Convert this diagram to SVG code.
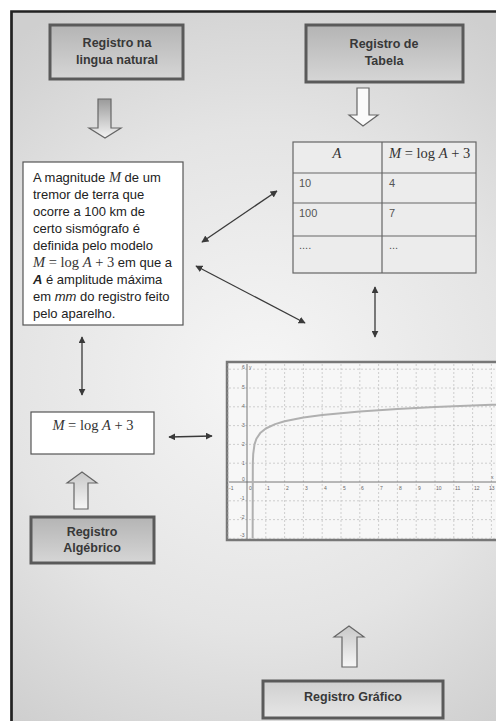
<svg xmlns="http://www.w3.org/2000/svg" width="496" height="721" viewBox="0 0 496 721">
<defs>
<radialGradient id="bg" cx="260" cy="380" r="420" gradientUnits="userSpaceOnUse">
<stop offset="0" stop-color="#f6f6f6"/>
<stop offset="0.6" stop-color="#e4e4e4"/>
<stop offset="1" stop-color="#cfcfcf"/>
</radialGradient>
<linearGradient id="lbl" x1="0" y1="0" x2="0" y2="1">
<stop offset="0" stop-color="#b4b4b4"/>
<stop offset="1" stop-color="#d6d6d6"/>
</linearGradient>
<linearGradient id="lbl2" x1="0" y1="0" x2="0" y2="1">
<stop offset="0" stop-color="#d0d0d0"/>
<stop offset="1" stop-color="#e6e6e6"/>
</linearGradient>
<linearGradient id="arrDark" x1="0" y1="0" x2="0" y2="1">
<stop offset="0" stop-color="#9a9a9a"/>
<stop offset="1" stop-color="#f4f4f4"/>
</linearGradient>
<linearGradient id="arrLight" x1="0" y1="0" x2="0" y2="1">
<stop offset="0" stop-color="#c8c8c8"/>
<stop offset="1" stop-color="#f6f6f6"/>
</linearGradient>
<marker id="ah" viewBox="0 0 10 10" refX="9" refY="5" markerWidth="7" markerHeight="7" markerUnits="userSpaceOnUse" orient="auto-start-reverse">
<path d="M0,0 L10,5 L0,10 z" fill="#3a3a3a"/>
</marker>
<style>
.lblbox{stroke:#5a5a5a;stroke-width:3}
.lbltxt{font-family:"Liberation Sans",Arial,sans-serif;font-weight:bold;font-size:12.5px;fill:#383838;text-anchor:middle}
.body{font-family:"Liberation Sans",Arial,sans-serif;font-size:13px;fill:#222}
.math{font-family:"Liberation Serif","Times New Roman",serif;font-size:14.5px;fill:#333}
.it{font-style:italic}
.cell{font-family:"Liberation Sans",Arial,sans-serif;font-size:11px;fill:#555}
.hollow{stroke:#666;stroke-width:1.2}
.conn{stroke:#3a3a3a;stroke-width:1.3;fill:none;marker-start:url(#ah);marker-end:url(#ah)}
.grid{stroke:#bdbdbd;stroke-width:0.7;stroke-dasharray:2 2}
.tick{font-family:"Liberation Sans",Arial,sans-serif;font-size:5px;fill:#666}
</style>
</defs>
<rect x="0" y="0" width="496" height="721" fill="#ffffff"/>
<rect x="11" y="11" width="490" height="715" fill="url(#bg)"/>
<path d="M11.5,721 L11.5,11.5 L496,11.5" fill="none" stroke="#222" stroke-width="2.7"/>

<g id="node-lingua">
<rect class="lblbox" x="50" y="25" width="133" height="54" fill="url(#lbl)"/>
<text class="lbltxt" x="117" y="47">Registro na</text>
<text class="lbltxt" x="117" y="64">lingua natural</text>
</g>
<g id="node-tabela-label">
<rect class="lblbox" x="306" y="25" width="157" height="57" fill="url(#lbl)"/>
<text class="lbltxt" x="384" y="48">Registro de</text>
<text class="lbltxt" x="384" y="65">Tabela</text>
</g>
<g id="arrow-lingua">
<polygon class="hollow" points="98,99 111,99 111,128 121,128 105,138 89,128 98,128" fill="url(#arrDark)"/>
</g>
<g id="arrow-tabela">
<polygon class="hollow" points="357,88 369,88 369,115 378,115 363,126 349,115 357,115" fill="#fafafa"/>
</g>

<g id="node-texto">
<rect x="23" y="162" width="160" height="163" fill="#ffffff" stroke="#555" stroke-width="1.2"/>
<text class="body" x="33" y="182">A magnitude <tspan class="math it">M</tspan> de um</text>
<text class="body" x="33" y="199">tremor de terra que</text>
<text class="body" x="33" y="216">ocorre a 100 km de</text>
<text class="body" x="33" y="233">certo sismógrafo é</text>
<text class="body" x="33" y="250">definida pelo modelo</text>
<text class="body" x="33" y="267"><tspan class="math"><tspan class="it">M</tspan> = log <tspan class="it">A</tspan> + 3</tspan> em que a</text>
<text class="body" x="33" y="284"><tspan font-weight="bold" font-style="italic">A</tspan> é amplitude máxima</text>
<text class="body" x="33" y="301">em <tspan font-style="italic">mm</tspan> do registro feito</text>
<text class="body" x="33" y="318">pelo aparelho.</text>
</g>

<g id="node-tabela">
<rect x="293" y="142" width="183" height="131" fill="#ececec" stroke="#666" stroke-width="1.2"/>
<line x1="382" y1="142" x2="382" y2="273" stroke="#666" stroke-width="1.2"/>
<line x1="293" y1="173" x2="476" y2="173" stroke="#666" stroke-width="1.2"/>
<line x1="293" y1="203" x2="476" y2="203" stroke="#666" stroke-width="1.2"/>
<line x1="293" y1="236" x2="476" y2="236" stroke="#666" stroke-width="1.2"/>
<text class="math it" x="337" y="158" text-anchor="middle">A</text>
<text class="math" x="389" y="158"><tspan class="it">M</tspan> = log <tspan class="it">A</tspan> + 3</text>
<text class="cell" x="299" y="187">10</text>
<text class="cell" x="389" y="187">4</text>
<text class="cell" x="299" y="217">100</text>
<text class="cell" x="389" y="217">7</text>
<text class="cell" x="299" y="249">....</text>
<text class="cell" x="389" y="249">...</text>
</g>

<g id="node-formula">
<rect x="31" y="412" width="123" height="42" fill="#ffffff" stroke="#555" stroke-width="1.2"/>
<text class="math" x="93" y="430" text-anchor="middle"><tspan class="it">M</tspan> = log <tspan class="it">A</tspan> + 3</text>
</g>
<g id="arrow-algebrico">
<polygon class="hollow" points="74,509 88,509 88,483 97,483 82,472 67,483 74,483" fill="url(#arrLight)"/>
</g>
<g id="node-algebrico">
<rect class="lblbox" x="31" y="517" width="123" height="46" fill="url(#lbl)"/>
<text class="lbltxt" x="92" y="536">Registro</text>
<text class="lbltxt" x="92" y="552">Algébrico</text>
</g>

<g id="node-grafico">
<rect x="227" y="362" width="275" height="178" fill="#f7f7f7" stroke="#777" stroke-width="2.5"/>
<g class="gridlines">
<line class="grid" x1="228.2" y1="364" x2="228.2" y2="539"/>
<line class="grid" x1="265.8" y1="364" x2="265.8" y2="539"/>
<line class="grid" x1="284.6" y1="364" x2="284.6" y2="539"/>
<line class="grid" x1="303.4" y1="364" x2="303.4" y2="539"/>
<line class="grid" x1="322.2" y1="364" x2="322.2" y2="539"/>
<line class="grid" x1="341" y1="364" x2="341" y2="539"/>
<line class="grid" x1="359.8" y1="364" x2="359.8" y2="539"/>
<line class="grid" x1="378.6" y1="364" x2="378.6" y2="539"/>
<line class="grid" x1="397.4" y1="364" x2="397.4" y2="539"/>
<line class="grid" x1="416.2" y1="364" x2="416.2" y2="539"/>
<line class="grid" x1="435" y1="364" x2="435" y2="539"/>
<line class="grid" x1="453.8" y1="364" x2="453.8" y2="539"/>
<line class="grid" x1="472.6" y1="364" x2="472.6" y2="539"/>
<line class="grid" x1="491.4" y1="364" x2="491.4" y2="539"/>
<line class="grid" x1="229" y1="369.2" x2="496" y2="369.2"/>
<line class="grid" x1="229" y1="388" x2="496" y2="388"/>
<line class="grid" x1="229" y1="406.8" x2="496" y2="406.8"/>
<line class="grid" x1="229" y1="425.6" x2="496" y2="425.6"/>
<line class="grid" x1="229" y1="444.4" x2="496" y2="444.4"/>
<line class="grid" x1="229" y1="463.2" x2="496" y2="463.2"/>
<line class="grid" x1="229" y1="500.8" x2="496" y2="500.8"/>
<line class="grid" x1="229" y1="519.6" x2="496" y2="519.6"/>
<line class="grid" x1="229" y1="538.4" x2="496" y2="538.4"/>
</g>
<line x1="229" y1="482" x2="496" y2="482" stroke="#666" stroke-width="0.9"/>
<line x1="247" y1="364" x2="247" y2="539" stroke="#666" stroke-width="0.9"/>
<path d="M252.64,538.4 L252.83,463.2 L253.2,454.2 L254.5,444.4 L256.4,438.7 L260.2,433.1 L265.8,428.5 L275.2,424.1 L284.6,421.3 L303.4,417.5 L322.2,414.9 L359.8,411.4 L397.4,408.9 L435,407 L491.4,404.8 L500,404.5" fill="none" stroke="#b0b0b0" stroke-width="2" stroke-linejoin="round"/>
<g class="ticklabels">
<text class="tick" x="229" y="490">-1</text>
<text class="tick" x="249" y="490">0</text>
<text class="tick" x="267" y="490">1</text>
<text class="tick" x="286" y="490">2</text>
<text class="tick" x="305" y="490">3</text>
<text class="tick" x="324" y="490">4</text>
<text class="tick" x="343" y="490">5</text>
<text class="tick" x="361" y="490">6</text>
<text class="tick" x="380" y="490">7</text>
<text class="tick" x="399" y="490">8</text>
<text class="tick" x="418" y="490">9</text>
<text class="tick" x="436" y="490">10</text>
<text class="tick" x="455" y="490">11</text>
<text class="tick" x="474" y="490">12</text>
<text class="tick" x="489" y="490">13</text>
<text class="tick" x="491" y="479">x</text>
<text class="tick" x="242" y="369">6</text>
<text class="tick" x="249" y="369">y</text>
<text class="tick" x="242" y="389">5</text>
<text class="tick" x="242" y="408">4</text>
<text class="tick" x="242" y="427">3</text>
<text class="tick" x="242" y="446">2</text>
<text class="tick" x="242" y="465">1</text>
<text class="tick" x="242" y="481">0</text>
<text class="tick" x="240" y="500">-1</text>
<text class="tick" x="240" y="519">-2</text>
<text class="tick" x="240" y="537">-3</text>
</g>
</g>
<g id="arrow-grafico">
<polygon class="hollow" points="342,667 357,667 357,637 364,637 349,626 334,637 342,637" fill="url(#arrLight)"/>
</g>
<g id="node-grafico-label">
<rect x="263" y="681" width="180" height="37" fill="url(#lbl2)" stroke="#5a5a5a" stroke-width="3"/>
<text class="lbltxt" x="353" y="701">Registro Gráfico</text>
</g>

<g id="connectors">
<line class="conn" x1="202" y1="242" x2="277" y2="191"/>
<line class="conn" x1="196" y1="266" x2="305" y2="323"/>
<line class="conn" x1="375" y1="287" x2="375" y2="337"/>
<line class="conn" x1="82" y1="337" x2="82" y2="395"/>
<line class="conn" x1="169" y1="437" x2="212" y2="436"/>
</g>
</svg>
